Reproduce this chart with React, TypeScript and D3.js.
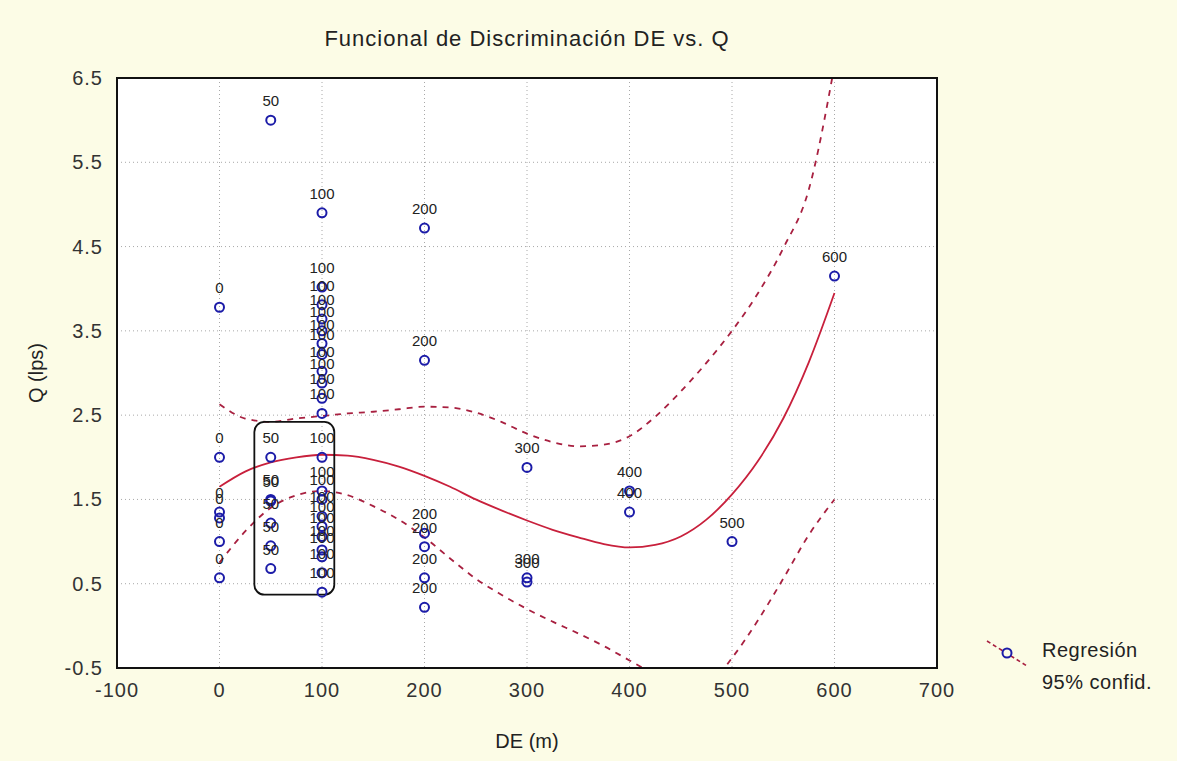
import * as d3 from 'd3';

// Axis ticks
const deTicks = [-100, 0, 100, 200, 300, 400, 500, 600, 700];
const qTicks = [-0.5, 0.5, 1.5, 2.5, 3.5, 4.5, 5.5, 6.5];

// Observations grouped by DE (m); each point is labelled with its DE
const groupDE = [0, 50, 100, 200, 300, 400, 500, 600];
const groupQ = [
  [3.78, 2.0, 1.35, 1.28, 1.0, 0.57],
  [6.0, 2.0, 1.5, 1.48, 1.22, 0.95, 0.68],
  [4.9, 4.02, 3.81, 3.64, 3.5, 3.35, 3.22, 3.02, 2.88, 2.7, 2.52, 2.0, 1.6, 1.5, 1.3, 1.18, 1.06, 0.9, 0.82, 0.63, 0.4],
  [4.72, 3.15, 1.1, 0.94, 0.57, 0.22],
  [1.88, 0.57, 0.52],
  [1.6, 1.35],
  [1.0],
  [4.15],
];

// Regression curve and 95% band
const fitDE = [0, 25, 50, 75, 100, 125, 150, 175, 200, 225, 250, 275, 300, 325, 350, 375, 400, 425, 450, 475, 500, 525, 550, 575, 600];
const fitQ = [1.65, 1.83, 1.94, 2.0, 2.03, 2.02, 1.97, 1.89, 1.78, 1.65, 1.5, 1.37, 1.25, 1.14, 1.05, 0.97, 0.93, 0.96, 1.06, 1.26, 1.56, 1.95, 2.46, 3.13, 3.95];
const upperQ = [2.63, 2.46, 2.42, 2.46, 2.49, 2.52, 2.54, 2.57, 2.6, 2.59, 2.53, 2.42, 2.28, 2.18, 2.13, 2.15, 2.25, 2.48, 2.78, 3.12, 3.5, 3.94, 4.48, 5.18, 6.65];
const lowerQ = [0.75, 1.12, 1.4, 1.55, 1.6, 1.55, 1.42, 1.26, 1.05, 0.8, 0.56, 0.37, 0.2, 0.05, -0.09, -0.24, -0.41, -0.58, -0.75, -0.72, -0.38, 0.06, 0.56, 1.08, 1.5];

// Annotation box around the DE 50-100 group
const boxDE = [34, 112];
const boxQ = [0.37, 2.42];

const W = 1177;
const H = 761;
const plot = { left: 117, right: 937, top: 78, bottom: 668 };
const FONT = '"Liberation Sans", Arial, sans-serif';
const BLUE = '#1c1ca8';
const RED = '#c8203c';
const DASH_RED = '#a82040';
const BG = '#fcfce6';

export default function App() {
  const x = d3.scaleLinear().domain([-100, 700]).range([plot.left, plot.right]);
  const y = d3.scaleLinear().domain([-0.5, 6.5]).range([plot.bottom, plot.top]);

  const line = (vals: number[]) =>
    d3.line<number>()
      .x((_, i) => x(fitDE[i]))
      .y(d => y(d))
      .curve(d3.curveMonotoneX)(vals) || '';

  const points = groupDE.flatMap((de, gi) => groupQ[gi].map(q => ({ de, q })));

  return (
    <svg width={W} height={H} style={{ position: 'absolute', left: 0, top: 0, background: BG }}>
      <defs>
        <clipPath id="plotClip">
          <rect x={plot.left} y={plot.top} width={plot.right - plot.left} height={plot.bottom - plot.top} />
        </clipPath>
      </defs>

      {/* Plot area */}
      <rect x={plot.left} y={plot.top} width={plot.right - plot.left} height={plot.bottom - plot.top} fill="#ffffff" />

      {/* Grid lines */}
      {deTicks.slice(1, -1).map(t => (
        <line key={'gx' + t} x1={x(t)} x2={x(t)} y1={plot.top} y2={plot.bottom}
          stroke="#a8a8a8" strokeWidth={1} strokeDasharray="1,3" />
      ))}
      {qTicks.slice(1, -1).map(t => (
        <line key={'gy' + t} x1={plot.left} x2={plot.right} y1={y(t)} y2={y(t)}
          stroke="#a8a8a8" strokeWidth={1} strokeDasharray="1,3" />
      ))}

      {/* Regression + confidence band */}
      <g clipPath="url(#plotClip)" fill="none">
        <path d={line(upperQ)} stroke={DASH_RED} strokeWidth={1.8} strokeDasharray="6,6" />
        <path d={line(lowerQ)} stroke={DASH_RED} strokeWidth={1.8} strokeDasharray="6,6" />
        <path d={line(fitQ)} stroke={RED} strokeWidth={1.8} />
      </g>

      {/* Annotation box */}
      <rect x={x(boxDE[0])} y={y(boxQ[1])} width={x(boxDE[1]) - x(boxDE[0])} height={y(boxQ[0]) - y(boxQ[1])}
        rx={10} ry={10} fill="none" stroke="#111" strokeWidth={1.8} />

      {/* Points */}
      {points.map((p, i) => (
        <circle key={'p' + i} cx={x(p.de)} cy={y(p.q)} r={4.5} fill="none" stroke={BLUE} strokeWidth={2} />
      ))}
      {points.map((p, i) => (
        <text key={'l' + i} x={x(p.de)} y={y(p.q) - 14} textAnchor="middle"
          fontFamily={FONT} fontSize={15} fill="#222">{p.de}</text>
      ))}

      {/* Border */}
      <rect x={plot.left} y={plot.top} width={plot.right - plot.left} height={plot.bottom - plot.top}
        fill="none" stroke="#111" strokeWidth={2} />

      {/* Axis tick labels */}
      {deTicks.map(t => (
        <text key={'tx' + t} x={x(t)} y={plot.bottom + 29} textAnchor="middle"
          fontFamily={FONT} fontSize={20} letterSpacing={1} fill="#333">{t}</text>
      ))}
      {qTicks.map(t => (
        <text key={'ty' + t} x={plot.left - 14} y={y(t) + 7} textAnchor="end"
          fontFamily={FONT} fontSize={20} letterSpacing={1} fill="#333">{t.toFixed(1)}</text>
      ))}

      {/* Titles */}
      <text x={527} y={46} textAnchor="middle" fontFamily={FONT} fontSize={22} letterSpacing={1} fill="#222">
        Funcional de Discriminación DE vs. Q
      </text>
      <text x={(plot.left + plot.right) / 2} y={748} textAnchor="middle" fontFamily={FONT} fontSize={20} fill="#222">
        DE (m)
      </text>
      <text transform={`translate(43,${(plot.top + plot.bottom) / 2}) rotate(-90)`} textAnchor="middle"
        fontFamily={FONT} fontSize={20} fill="#222">
        Q (lps)
      </text>

      {/* Legend */}
      <g>
        <line x1={987} y1={641} x2={1027} y2={666} stroke={DASH_RED} strokeWidth={1.6} strokeDasharray="4,3" />
        <circle cx={1007} cy={653} r={4.5} fill={BG} stroke={BLUE} strokeWidth={2} />
        <text x={1042} y={657} fontFamily={FONT} fontSize={20} letterSpacing={0.5} fill="#222">Regresión</text>
        <text x={1042} y={689} fontFamily={FONT} fontSize={20} letterSpacing={0.5} fill="#222">95% confid.</text>
      </g>
    </svg>
  );
}
